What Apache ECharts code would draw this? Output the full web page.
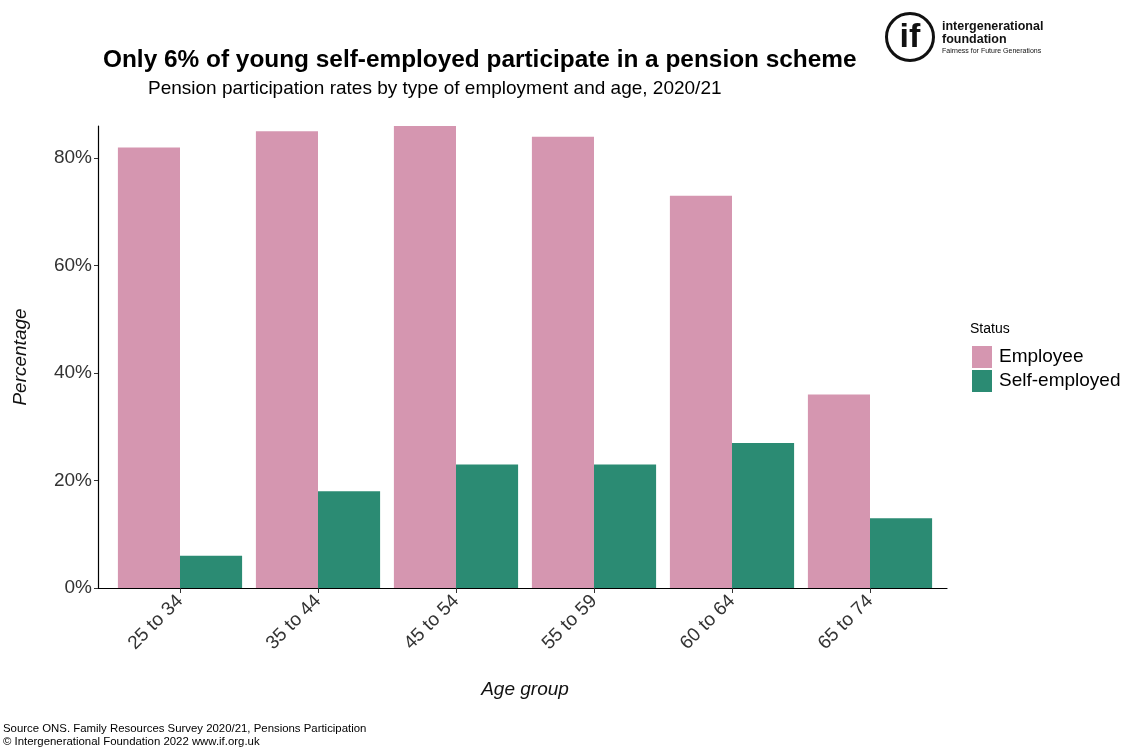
<!DOCTYPE html>
<html>
<head>
<meta charset="utf-8">
<script src="https://cdn.jsdelivr.net/npm/echarts@6/dist/echarts.min.js"></script>
<style>
  html, body { margin: 0; padding: 0; background: #fff; }
  #chart { width: 1126px; height: 749px; }
</style>
</head>
<body>
<div id="chart"></div>
<script>
// Pension participation by age group and employment type, 2020/21
const categories = ['25 to 34', '35 to 44', '45 to 54', '55 to 59', '60 to 64', '65 to 74'];
const employee = [82, 85, 86, 84, 73, 36];
const selfEmployed = [6, 18, 23, 23, 27, 13];
const yTicks = [0, 20, 40, 60, 80];

const FONT = 'Liberation Sans, Arial, sans-serif';
const PINK = '#d596b0';
const GREEN = '#2b8b73';
const AXIS_TEXT = '#333333';

const chart = echarts.init(document.getElementById('chart'), null, { renderer: 'canvas' });

const plotTop = 126, plotHeight = 462, yMax = 86;

chart.setOption({
  backgroundColor: '#ffffff',
  animation: false,
  title: [
    {
      text: 'Only 6% of young self-employed participate in a pension scheme',
      left: 103, top: 48, padding: 0,
      textStyle: { fontFamily: FONT, fontSize: 24.4, fontWeight: 'bold', color: '#000' }
    },
    {
      text: 'Pension participation rates by type of employment and age, 2020/21',
      left: 148, top: 79, padding: 0,
      textStyle: { fontFamily: FONT, fontSize: 19, fontWeight: 'normal', color: '#000' }
    }
  ],
  legend: {
    orient: 'vertical',
    left: 972, top: 346, padding: 0,
    itemWidth: 20, itemHeight: 22, itemGap: 2,
    icon: 'rect',
    textStyle: { fontFamily: FONT, fontSize: 19, color: '#000', padding: [2, 0, 0, 2] },
    data: ['Employee', 'Self-employed']
  },
  grid: [
    // bar area (category bands)
    { left: 111, width: 828, top: plotTop, height: plotHeight },
    // full panel carrying the axis lines
    { left: 98, width: 849, top: plotTop, height: plotHeight }
  ],
  xAxis: [
    {
      type: 'category', gridIndex: 0, data: categories,
      axisLine: { show: false },
      axisTick: { show: true, alignWithLabel: true, length: 5, lineStyle: { color: '#333', width: 1 } },
      axisLabel: { rotate: 45, fontFamily: FONT, fontSize: 19, color: AXIS_TEXT, margin: 10 },
      name: 'Age group', nameLocation: 'middle', nameGap: 92,
      nameTextStyle: { fontFamily: FONT, fontSize: 19, fontStyle: 'italic', color: '#111' }
    },
    {
      type: 'value', gridIndex: 1, min: 0, max: 1,
      axisLine: { show: true, lineStyle: { color: '#000', width: 1.2 } },
      axisTick: { show: false }, axisLabel: { show: false }, splitLine: { show: false }
    }
  ],
  yAxis: [
    { type: 'value', gridIndex: 0, min: 0, max: yMax, show: false },
    {
      type: 'value', gridIndex: 1, min: 0, max: yMax,
      axisLine: { show: true, lineStyle: { color: '#000', width: 1.2 } },
      axisTick: { show: true, length: 4, customValues: yTicks, lineStyle: { color: '#333' } },
      axisLabel: { customValues: yTicks, formatter: '{value}%', fontFamily: FONT, fontSize: 19, color: AXIS_TEXT, margin: 6 },
      splitLine: { show: false },
      name: 'Percentage', nameLocation: 'middle', nameRotate: 90, nameGap: 68,
      nameTextStyle: { fontFamily: FONT, fontSize: 19, fontStyle: 'italic', color: '#111' }
    }
  ],
  series: [
    {
      name: 'Employee', type: 'bar', xAxisIndex: 0, yAxisIndex: 0,
      data: employee, itemStyle: { color: PINK },
      barGap: '0%', barCategoryGap: '10%'
    },
    {
      name: 'Self-employed', type: 'bar', xAxisIndex: 0, yAxisIndex: 0,
      data: selfEmployed, itemStyle: { color: GREEN },
      barGap: '0%', barCategoryGap: '10%'
    }
  ],
  graphic: [
    {
      type: 'text', left: 970, top: 322,
      style: { text: 'Status', font: '14px ' + FONT, fill: '#000' }
    },
    // logo
    {
      type: 'circle', shape: { cx: 910, cy: 37, r: 23.5 },
      style: { fill: '#fff', stroke: '#111', lineWidth: 3 }
    },
    {
      type: 'text', x: 910, y: 38,
      style: { text: 'if', font: 'bold 34px ' + FONT, fill: '#111', align: 'center', verticalAlign: 'middle' }
    },
    {
      type: 'text', x: 942, y: 20,
      style: { text: 'intergenerational', font: 'bold 12.5px ' + FONT, fill: '#111' }
    },
    {
      type: 'text', x: 942, y: 33,
      style: { text: 'foundation', font: 'bold 12.5px ' + FONT, fill: '#111' }
    },
    {
      type: 'text', x: 942, y: 48,
      style: { text: 'Fairness for Future Generations', font: '7px ' + FONT, fill: '#111' }
    },
    // footer
    {
      type: 'text', x: 3, y: 723,
      style: { text: 'Source ONS. Family Resources Survey 2020/21, Pensions Participation', font: '11.4px ' + FONT, fill: '#000' }
    },
    {
      type: 'text', x: 3, y: 736,
      style: { text: '\u00a9 Intergenerational Foundation 2022 www.if.org.uk', font: '11.4px ' + FONT, fill: '#000' }
    }
  ]
});
</script>
</body>
</html>
